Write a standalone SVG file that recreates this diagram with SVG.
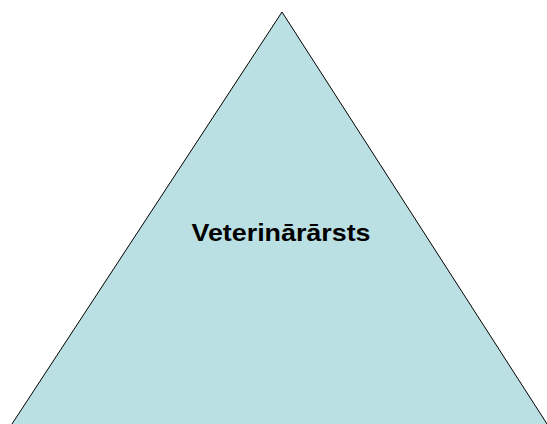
<svg xmlns="http://www.w3.org/2000/svg" width="547" height="424" viewBox="0 0 547 424">
<style>
.tri{fill:#bbe0e3;stroke:#000;stroke-width:1}
.lbl{font-family:"Liberation Sans",Arial,sans-serif;font-weight:bold;font-size:24px;fill:#000}
</style>
<rect width="547" height="424" fill="#fff"/>
<g id="pyramid">
<polygon class="tri" points="282,12 10,427 549,427"/>
<text class="lbl" x="281" y="241" text-anchor="middle" textLength="179" lengthAdjust="spacingAndGlyphs">Veterinārārsts</text>
</g>
</svg>
